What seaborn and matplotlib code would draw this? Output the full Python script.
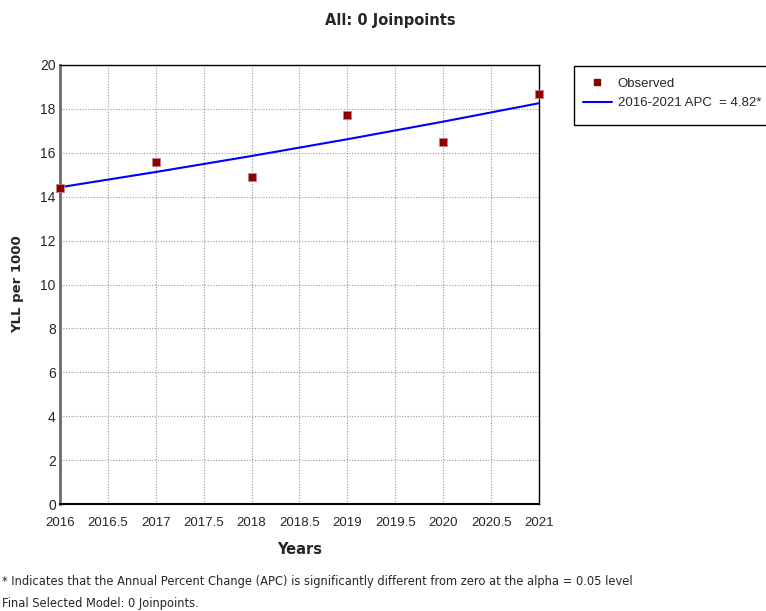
import numpy as np
import pandas as pd
import seaborn as sns
import matplotlib
matplotlib.use("Agg")
import matplotlib.pyplot as plt
from matplotlib.lines import Line2D
from matplotlib.patches import Rectangle

# Observed YLL per 1000 by year
years = [2016, 2017, 2018, 2019, 2020, 2021]
observed = [14.4, 15.6, 14.9, 17.7, 16.5, 18.7]

# Joinpoint model with 0 joinpoints: single log-linear segment
apc = 4.82
fit_start = 14.43
segment_label = "2016-2021 APC  = 4.82*"

x_ticks = [2016, 2016.5, 2017, 2017.5, 2018, 2018.5, 2019, 2019.5, 2020, 2020.5, 2021]
x_tick_labels = ["2016", "2016.5", "2017", "2017.5", "2018", "2018.5", "2019", "2019.5", "2020", "2020.5", "2021"]
y_ticks = [0, 2, 4, 6, 8, 10, 12, 14, 16, 18, 20]

sns.set_style("white")
plt.rcParams["font.family"] = ["DejaVu Sans"]

obs_df = pd.DataFrame({"Year": years, "YLL": observed})
fit_years = np.array(years, dtype=float)
fit_df = pd.DataFrame({
    "Year": fit_years,
    "YLL": fit_start * (1 + apc / 100.0) ** (fit_years - years[0]),
})

W, H = 766, 611
fig = plt.figure(figsize=(W / 100, H / 100), dpi=100)
ax = fig.add_axes([60 / W, 1 - 504 / H, (539 - 60) / W, (504 - 65) / H])

sns.lineplot(data=fit_df, x="Year", y="YLL", ax=ax, color="#0000FF", linewidth=1.5, zorder=3)
sns.scatterplot(data=obs_df, x="Year", y="YLL", ax=ax, marker="s", s=34,
                color="#8B0000", edgecolor="#c98080", linewidth=0.6, zorder=4, clip_on=False)

ax.set_xlim(2016, 2021)
ax.set_ylim(0, 20)
ax.set_xticks(x_ticks)
ax.set_xticklabels(x_tick_labels, fontsize=9.5, family="Liberation Sans")
ax.set_yticks(y_ticks)
ax.set_yticklabels([str(v) for v in y_ticks], fontsize=10, family="Liberation Sans")
ax.tick_params(axis="x", length=0, pad=9)
ax.tick_params(axis="y", length=0, pad=3)

ax.grid(True, color="#9a9a9a", linestyle=(0, (1, 1.5)), linewidth=0.8)
ax.set_axisbelow(True)

for side in ["top", "right", "bottom"]:
    ax.spines[side].set_color("black")
    ax.spines[side].set_linewidth(1.0)
ax.spines["left"].set_color("#6a6a6a")
ax.spines["left"].set_linewidth(2.0)
ax.spines["bottom"].set_linewidth(1.5)

ax.set_xlabel("Years", fontsize=10.5, fontweight="bold", labelpad=10)
ax.set_ylabel("YLL per 1000", fontsize=9.5, fontweight="bold")
ax.yaxis.set_label_coords((18 - 60) / (539 - 60), 0.5)
ax.yaxis.label.set_va("center")

fig.text(390 / W, 1 - 21 / H, "All: 0 Joinpoints", ha="center", va="center",
         fontsize=10.5, fontweight="bold")

# Legend box runs off the right edge of the figure
fig.patches.append(Rectangle((574 / W, 1 - 125 / H), (800 - 574) / W, (125 - 66) / H,
                             transform=fig.transFigure, fill=False,
                             edgecolor="black", linewidth=1.0))
handles = [
    Line2D([], [], marker="s", color="none", markerfacecolor="#8B0000",
           markeredgecolor="#8B0000", markersize=4),
    Line2D([], [], color="#0000FF", linewidth=1.5),
]
leg = fig.legend(handles, ["Observed", segment_label], loc="upper left",
                 bbox_to_anchor=(580 / W, 1 - 75 / H), frameon=False,
                 prop={"family": "Liberation Sans", "size": 9.5},
                 handlelength=2.2, handletextpad=0.45,
                 borderpad=0.2, labelspacing=0.55, borderaxespad=0)

fig.text(2 / W, 1 - 582 / H,
         "* Indicates that the Annual Percent Change (APC) is significantly different from zero at the alpha = 0.05 level",
         ha="left", va="center", fontsize=8.3)
fig.text(2 / W, 1 - 603 / H, "Final Selected Model: 0 Joinpoints.",
         ha="left", va="center", fontsize=8.3)

fig.savefig("out.png", dpi=100)
